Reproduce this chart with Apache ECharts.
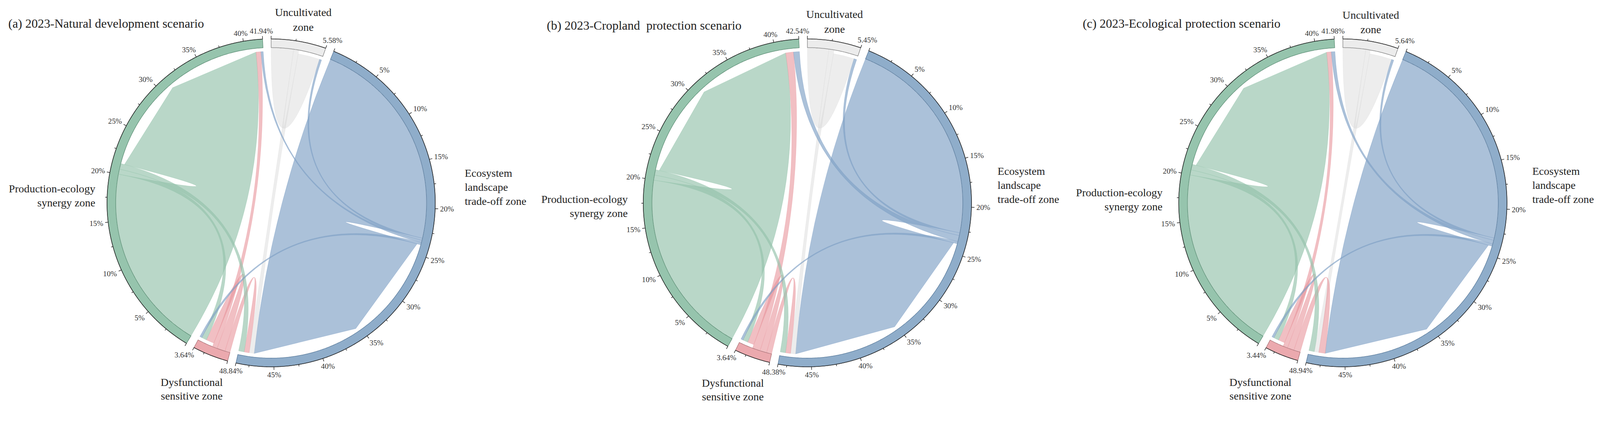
<!DOCTYPE html>
<html>
<head>
<meta charset="utf-8">
<script src="https://cdn.jsdelivr.net/npm/echarts@6/dist/echarts.min.js"></script>
<style>
html,body{margin:0;padding:0;background:#ffffff;overflow:hidden;}
#chart{width:100vw;height:100vh;}
</style>
</head>
<body>
<div id="chart"></div>
<script>
// ---------------- DATA ----------------
const zoneNames = ['Uncultivated zone', 'Ecosystem landscape trade-off zone', 'Dysfunctional sensitive zone', 'Production-ecology synergy zone'];
const zoneLabels = ['Uncultivated\nzone', 'Ecosystem\nlandscape\ntrade-off zone', 'Dysfunctional\nsensitive zone', 'Production-ecology\nsynergy zone'];
const scenarioTitles = ['(a) 2023-Natural development scenario', '(b) 2023-Cropland  protection scenario', '(c) 2023-Ecological protection scenario'];

// sector totals (% of circle), order clockwise from top: Uncultivated, Ecosystem, Dysfunctional, Production
const totalsA = [5.58, 48.84, 3.64, 41.94];
const totalsB = [5.45, 48.38, 3.64, 42.54];
const totalsC = [5.64, 48.94, 3.44, 41.98];

// link list (0 = Uncultivated, 1 = Ecosystem, 2 = Dysfunctional, 3 = Production)
const linkFrom = [1, 0, 1, 0, 2, 2, 3, 2, 3, 3, 1, 1];
const linkTo   = [1, 0, 0, 1, 1, 2, 3, 3, 2, 1, 3, 2];
const linkValuesA = [23.2, 2.40, 0.23, 0.55, 0.55, 0.88, 20.0, 0.53, 0.55, 0.61, 0.25, 0.25];
const linkValuesB = [22.75, 2.30, 0.30, 0.55, 0.55, 0.72, 19.955, 0.85, 0.55, 0.58, 0.65, 0.25];
const linkValuesC = [23.125, 2.45, 0.25, 0.49, 0.70, 0.72, 19.965, 0.50, 0.55, 0.60, 0.40, 0.25];
// order in which link ends are stacked along each arc
const stackOrderA = [0, 1, 2, 3, 4, 5, 6, 7, 8, 9, 10, 11];
const stackOrderB = [0, 1, 2, 3, 4, 5, 6, 7, 8, 9, 10, 11];
const stackOrderC = [0, 1, 2, 4, 3, 5, 6, 7, 8, 9, 10, 11];

const minorTickStep = 2.5;
const labelStep = 5;

// ---------------- STYLE / LAYOUT (design units: 4231 x 1084) ----------------
const ringColors  = ['#ececec', '#8fadca', '#eba9ae', '#96c4ad'];
const ringBorders = ['#7d7d7d', '#5a7b9c', '#aa7176', '#5b8d74'];
const linkColors  = ['rgba(214,214,214,0.45)', 'rgba(128,161,197,0.66)', 'rgba(232,148,155,0.6)', 'rgba(148,195,171,0.66)'];
const FONT = "'Times New Roman', 'Liberation Serif', serif";
const R_RING_OUT = 434, R_RING_IN = 411, R_LINK_OUT = 410, R_LINK_IN = 401, GAP_DEG = 3;
const CY = 537;
const DESIGN_W = 4231, DESIGN_H = 1084;

const panels = [
  { cx: 717,  totals: totalsA, values: linkValuesA, order: stackOrderA, title: scenarioTitles[0], tx: 22,   ty: 63,
    lab: [[85, 52], [512, 495], [-210, 1030], [-465, 518]] },
  { cx: 2135, totals: totalsB, values: linkValuesB, order: stackOrderB, title: scenarioTitles[1], tx: 1446, ty: 68,
    lab: [[72, 57], [503, 490], [-197, 1032], [-475, 546]] },
  { cx: 3551, totals: totalsC, values: linkValuesC, order: stackOrderC, title: scenarioTitles[2], tx: 2863, ty: 63,
    lab: [[74, 59], [501, 490], [-218, 1030], [-477, 528]] }
];

const el = document.getElementById('chart');
const VW = el.clientWidth || window.innerWidth, VH = el.clientHeight || window.innerHeight;
const K = Math.min(VW / DESIGN_W, VH / DESIGN_H);

// ---------------- CHORD LAYOUT ----------------
function pt(r, deg) { const a = deg * Math.PI / 180; return [r * Math.sin(a), r * Math.cos(a)]; }
function layoutChord(totals, values, order) {
  const sum = totals.reduce((a, b) => a + b, 0);
  const degPer = (360 - GAP_DEG * totals.length) / sum;
  const sectors = []; let ang = 0;
  totals.forEach((t) => { sectors.push({ start: ang, end: ang + t * degPer, total: t }); ang += t * degPer + GAP_DEG; });
  const cursor = totals.map(() => 0), outEnd = [], inEnd = [];
  totals.forEach((t, s) => {
    order.forEach((k) => { if (linkFrom[k] === s) { outEnd[k] = [cursor[s], cursor[s] + values[k]]; cursor[s] += values[k]; } });
    order.forEach((k) => { if (linkTo[k] === s) { inEnd[k] = [cursor[s], cursor[s] + values[k]]; cursor[s] += values[k]; } });
  });
  const toAng = (s, p) => sectors[s].start + p * degPer;
  const links = values.map((v, k) => ({
    from: linkFrom[k],
    s1: toAng(linkFrom[k], outEnd[k][0]), s2: toAng(linkFrom[k], outEnd[k][1]),
    t1: toAng(linkTo[k], inEnd[k][0]),   t2: toAng(linkTo[k], inEnd[k][1])
  }));
  return { sectors, links, degPer };
}
const f = (p) => p[0].toFixed(2) + ' ' + p[1].toFixed(2);

function renderLink(lay, params, api) {
  const L = lay.links[params.dataIndex];
  const c = api.coord([0, 0]);
  let d = '';
  const n = Math.max(2, Math.ceil((L.s2 - L.s1) / 0.5));
  for (let i = 0; i <= n; i++) {
    const p = api.coord(pt(R_LINK_OUT, L.s1 + (L.s2 - L.s1) * i / n));
    d += (i ? 'L' : 'M') + f(p);
  }
  const t1 = api.coord(pt(R_LINK_IN, L.t1));
  const tm = api.coord(pt(R_LINK_IN, (L.t1 + L.t2) / 2));
  const t2 = api.coord(pt(R_LINK_IN, L.t2));
  const s1 = api.coord(pt(R_LINK_OUT, L.s1));
  d += 'Q' + f(c) + ' ' + f(t1) + 'L' + f(tm) + 'L' + f(t2) + 'Q' + f(c) + ' ' + f(s1) + 'Z';
  return { type: 'path', shape: { pathData: d },
    style: { fill: linkColors[L.from], stroke: linkColors[L.from], lineWidth: 0.8 * K } };
}

function textWidth(s, fs) { let w = 0; for (const ch of s) w += ch === '%' ? 0.833 : (ch === '.' ? 0.25 : 0.5); return w * fs; }
const clamp = (v) => Math.max(-1, Math.min(1, v));

function renderSector(lay, params, api) {
  const i = params.dataIndex, S = lay.sectors[i];
  const children = [];
  const n = Math.ceil((S.end - S.start) / 0.4);
  let d = '', a = '';
  for (let k = 0; k <= n; k++) { const p = api.coord(pt(R_RING_OUT, S.start + (S.end - S.start) * k / n)); d += (k ? 'L' : 'M') + f(p); a += (k ? 'L' : 'M') + f(p); }
  for (let k = n; k >= 0; k--) { const p = api.coord(pt(R_RING_IN, S.start + (S.end - S.start) * k / n)); d += 'L' + f(p); }
  d += 'Z';
  children.push({ type: 'path', shape: { pathData: d }, style: { fill: ringColors[i], stroke: ringBorders[i], lineWidth: 1.3 * K } });
  children.push({ type: 'path', shape: { pathData: a }, style: { fill: 'none', stroke: '#262626', lineWidth: 1.6 * K } });
  const ticks = [];
  for (let p = 0; p < S.total - 0.7; p = Math.round((p + minorTickStep) * 100) / 100) ticks.push(p);
  ticks.push(S.total);
  const fs = 20;
  ticks.forEach((p) => {
    const ang = S.start + p * lay.degPer;
    const isEnd = p === S.total;
    const isMajor = isEnd || p === 0 || Math.abs(p / labelStep - Math.round(p / labelStep)) < 1e-6;
    const len = isMajor ? 8 : 5;
    const p0 = api.coord(pt(R_RING_OUT, ang)), p1 = api.coord(pt(R_RING_OUT + len, ang));
    children.push({ type: 'line', shape: { x1: p0[0], y1: p0[1], x2: p1[0], y2: p1[1] }, style: { stroke: '#262626', lineWidth: 1.5 * K } });
    if (p > 0 && (isEnd || isMajor)) {
      const txt = isEnd ? S.total.toFixed(2) + '%' : String(p) + '%';
      const w = textWidth(txt, fs), h = fs * 0.8;
      const r = ang * Math.PI / 180;
      const base = pt(R_RING_OUT + 13, ang);
      const ctr = api.coord([base[0] + w / 2 * clamp(1.6 * Math.sin(r)), base[1] + h / 2 * clamp(1.6 * Math.cos(r))]);
      children.push({ type: 'text', x: ctr[0], y: ctr[1],
        style: { text: txt, fill: '#333333', fontSize: fs * K, fontFamily: FONT,
          align: 'center', verticalAlign: 'middle', textAlign: 'center', textVerticalAlign: 'middle' } });
    }
  });
  return { type: 'group', children };
}

// ---------------- OPTION ----------------
const grids = [], xAxes = [], yAxes = [], series = [], graphics = [];
panels.forEach((P, gi) => {
  const lay = layoutChord(P.totals, P.values, P.order);
  grids.push({ left: (P.cx - 500) * K, top: (CY - 500) * K, width: 1000 * K, height: 1000 * K });
  xAxes.push({ type: 'value', gridIndex: gi, min: -500, max: 500, show: false });
  yAxes.push({ type: 'value', gridIndex: gi, min: -500, max: 500, show: false });
  series.push({ type: 'custom', name: 'links ' + gi, coordinateSystem: 'cartesian2d', xAxisIndex: gi, yAxisIndex: gi,
    silent: true, z: 1, clip: false,
    data: P.values.map((v, k) => ({ name: zoneNames[linkFrom[k]] + ' → ' + zoneNames[linkTo[k]], value: [k, v] })),
    renderItem: (params, api) => renderLink(lay, params, api) });
  series.push({ type: 'custom', name: 'sectors ' + gi, coordinateSystem: 'cartesian2d', xAxisIndex: gi, yAxisIndex: gi,
    silent: true, z: 2, clip: false,
    data: P.totals.map((t, k) => ({ name: zoneNames[k], value: [k, t] })),
    renderItem: (params, api) => renderSector(lay, params, api) });
  graphics.push({ type: 'text', x: P.tx * K, y: P.ty * K,
    style: { text: P.title, fill: '#222222', fontSize: 33 * K, fontFamily: FONT,
      align: 'left', verticalAlign: 'middle', textAlign: 'left', textVerticalAlign: 'middle' } });
  const aligns = ['center', 'left', 'center', 'right'];
  const lh = [39, 37, 36, 37];
  zoneLabels.forEach((t, k) => {
    graphics.push({ type: 'text', x: (P.cx + P.lab[k][0]) * K, y: P.lab[k][1] * K,
      style: { text: t, fill: '#222222', fontSize: 29 * K, fontFamily: FONT, lineHeight: lh[k] * K,
        align: aligns[k], verticalAlign: 'middle', textAlign: aligns[k], textVerticalAlign: 'middle' } });
  });
});

const chart = echarts.init(el, null, { renderer: 'svg' });
chart.setOption({
  animation: false,
  backgroundColor: '#ffffff',
  grid: grids, xAxis: xAxes, yAxis: yAxes,
  series: series,
  graphic: graphics
});
</script>
</body>
</html>
